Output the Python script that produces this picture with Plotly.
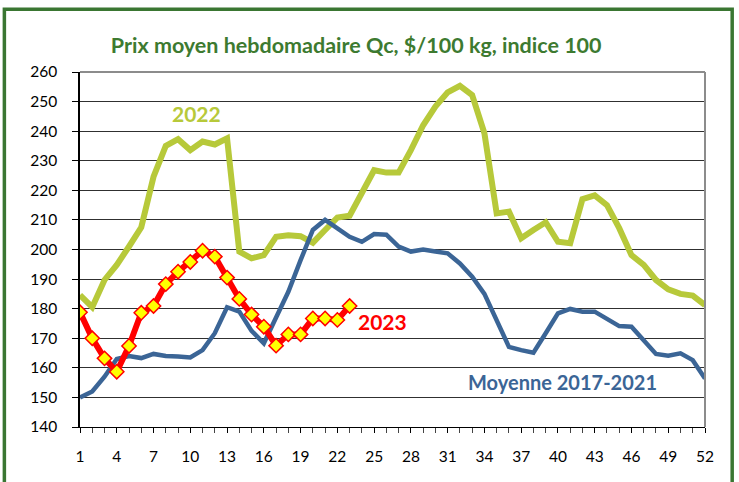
import plotly.graph_objects as go

weeks = list(range(1, 53))

moyenne_2017_2021 = [150, 152, 157, 163, 164, 163.3, 164.7, 164, 163.8, 163.5,
                     166, 171.7, 180.5, 179, 172.5, 168.3, 177, 185.7, 196.4, 206.6,
                     210, 207, 204.3, 202.6, 205.2, 205, 201, 199.3, 200, 199.3,
                     198.7, 195.3, 190.8, 185, 176.2, 167.1, 166, 165.1, 171.7, 178.4,
                     179.9, 179, 179, 176.7, 174.1, 173.9, 169.4, 164.7, 164.1, 164.9,
                     162.6, 156.4]

prix_2022 = [184.6, 180.5, 189.7, 194.8, 201, 207.5, 224.6, 235, 237.3, 233.6,
             236.5, 235.5, 237.6, 199.3, 197, 198.1, 204.3, 204.8, 204.5, 202.3,
             206.6, 210.8, 211.4, 219, 226.8, 226, 226, 233.6, 242, 248.3,
             253.1, 255.3, 252.2, 239.3, 212.2, 212.8, 203.8, 206.6, 209.2, 202.6,
             202.1, 217, 218.3, 215, 207.2, 198.1, 194.8, 189.7, 186.5, 185,
             184.4, 181.2]

prix_2023 = [178.8, 170, 163.2, 158.7, 167.4, 178.6, 180.9, 188.3, 192.5, 195.8,
             199.6, 197.6, 190.5, 183.3, 178, 173.9, 167.5, 171.3, 171.3, 176.7,
             176.7, 176.2, 180.9]

y_ticks = list(range(140, 261, 10))
x_ticks = list(range(1, 53, 3))

title_text = "Prix moyen hebdomadaire Qc, $/100 kg, indice 100"

GREEN = "#b7c93a"
BLUE = "#3b6596"
RED = "#ff0000"
TITLE_GREEN = "#3d7a30"
FONT = "Lato, Open Sans, sans-serif"

fig = go.Figure()
fig.add_trace(go.Scatter(x=weeks, y=prix_2022, mode="lines",
                         line=dict(color=GREEN, width=6), name="2022"))
fig.add_trace(go.Scatter(x=weeks, y=moyenne_2017_2021, mode="lines",
                         line=dict(color=BLUE, width=4.5), name="Moyenne 2017-2021"))
fig.add_trace(go.Scatter(x=weeks[:len(prix_2023)], y=prix_2023, mode="lines+markers",
                         line=dict(color=RED, width=6),
                         marker=dict(symbol="diamond", size=11, color="#ffff00",
                                     line=dict(color=RED, width=1.5)),
                         name="2023"))

fig.update_layout(
    width=739, height=482,
    margin=dict(l=80, r=34, t=72, b=55),
    paper_bgcolor="white", plot_bgcolor="white",
    showlegend=False,
    font=dict(family=FONT, size=15.5, color="black"),
    title=dict(text="<b>" + title_text + "</b>", x=0.482, xanchor="center",
               y=0.906, yanchor="middle",
               font=dict(family=FONT, size=21.5, color=TITLE_GREEN)),
    xaxis=dict(range=[1, 52], tickvals=x_ticks, ticks="outside", ticklen=5,
               tickcolor="black", showgrid=False, zeroline=False,
               showline=True, linecolor="black", linewidth=1,
               minor=dict(dtick=1, tick0=1, ticks="outside", ticklen=5, tickcolor="#444"),
               tickfont=dict(family=FONT, size=15.5), ticklabelstandoff=10),
    yaxis=dict(range=[140, 260], tickvals=y_ticks, ticks="outside", ticklen=6,
               tickcolor="black", showgrid=True, gridcolor="#303030", gridwidth=1,
               zeroline=False, showline=True, linecolor="black", linewidth=1.5,
               tickfont=dict(family=FONT, size=15.5), ticklabelstandoff=12),
    shapes=[
        dict(type="line", xref="paper", yref="paper", x0=1, x1=1, y0=0, y1=1,
             line=dict(color="#8c8c8c", width=2)),
        dict(type="line", xref="paper", yref="paper", x0=0, x1=1, y0=1, y1=1,
             line=dict(color="#8c8c8c", width=2)),
        dict(type="rect", xref="paper", yref="paper", x0=-0.121, x1=1.0435,
             y0=-0.25, y1=1.177, line=dict(color="#3a7632", width=3.5)),
    ],
    annotations=[
        dict(text="<b>2022</b>", x=10.5, y=246.1, xref="x", yref="y", showarrow=False,
             font=dict(family=FONT, size=21, color=GREEN)),
        dict(text="<b>2023</b>", x=25.7, y=175.5, xref="x", yref="y", showarrow=False,
             font=dict(family=FONT, size=21, color=RED)),
        dict(text="<b>Moyenne 2017-2021</b>", x=40.4, y=155.2, xref="x", yref="y",
             showarrow=False, font=dict(family=FONT, size=20, color=BLUE)),
    ],
)

fig.write_html("out.html", config={"displayModeBar": False},
               post_script="document.body.style.margin='0';")
